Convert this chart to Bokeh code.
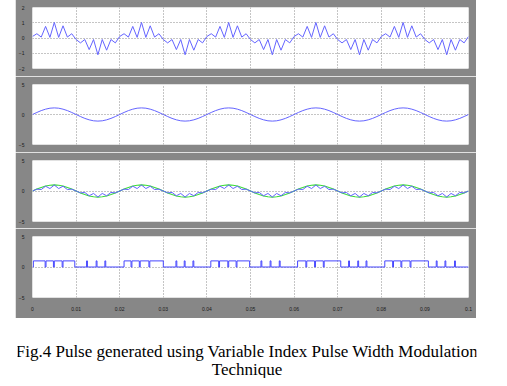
from bokeh.plotting import figure
from bokeh.models import FixedTicker, Range1d, Label
from bokeh.layouts import column
from bokeh.embed import file_html
from bokeh.resources import INLINE

# ---------------- data ----------------
sample_t = [i / 1000 for i in range(101)]          # 1 ms vertex spacing
x_ticks = [0.0, 0.01, 0.02, 0.03, 0.04, 0.05, 0.06, 0.07, 0.08, 0.09, 0.1]
x_tick_labels = ["0", "0.01", "0.02", "0.03", "0.04", "0.05", "0.06", "0.07", "0.08", "0.09", "0.1"]

# panel 1: modulated carrier
modulated = [
    0.10, 0.28, 0.06, 0.76, 0.04, 1.02, 0.04, 0.80, 0.06, 0.28,
    -0.10, -0.32, -0.10, -0.76, -0.10, -1.10, -0.10, -0.80, -0.10, -0.32,
    0.10, 0.28, 0.06, 0.76, 0.04, 1.02, 0.04, 0.80, 0.06, 0.28,
    -0.10, -0.32, -0.10, -0.76, -0.10, -1.10, -0.10, -0.80, -0.10, -0.32,
    0.10, 0.28, 0.06, 0.76, 0.04, 1.02, 0.04, 0.80, 0.06, 0.28,
    -0.10, -0.32, -0.10, -0.76, -0.10, -1.10, -0.10, -0.80, -0.10, -0.32,
    0.10, 0.28, 0.06, 0.76, 0.04, 1.02, 0.04, 0.80, 0.06, 0.28,
    -0.10, -0.32, -0.10, -0.76, -0.10, -1.10, -0.10, -0.80, -0.10, -0.32,
    0.10, 0.28, 0.06, 0.76, 0.04, 1.02, 0.04, 0.80, 0.06, 0.28,
    -0.10, -0.32, -0.10, -0.76, -0.10, -1.10, -0.10, -0.80, -0.10, -0.32,
    0.10,
]
p1_ticks = [-2, -1, 0, 1, 2]

# panel 2: reference sine
reference = [
    0.00, 0.34, 0.65, 0.89, 1.05, 1.10, 1.05, 0.89, 0.65, 0.34,
    0.00, -0.34, -0.65, -0.89, -1.05, -1.10, -1.05, -0.89, -0.65, -0.34,
    0.00, 0.34, 0.65, 0.89, 1.05, 1.10, 1.05, 0.89, 0.65, 0.34,
    0.00, -0.34, -0.65, -0.89, -1.05, -1.10, -1.05, -0.89, -0.65, -0.34,
    0.00, 0.34, 0.65, 0.89, 1.05, 1.10, 1.05, 0.89, 0.65, 0.34,
    0.00, -0.34, -0.65, -0.89, -1.05, -1.10, -1.05, -0.89, -0.65, -0.34,
    0.00, 0.34, 0.65, 0.89, 1.05, 1.10, 1.05, 0.89, 0.65, 0.34,
    0.00, -0.34, -0.65, -0.89, -1.05, -1.10, -1.05, -0.89, -0.65, -0.34,
    0.00, 0.34, 0.65, 0.89, 1.05, 1.10, 1.05, 0.89, 0.65, 0.34,
    0.00, -0.34, -0.65, -0.89, -1.05, -1.10, -1.05, -0.89, -0.65, -0.34,
    0.00,
]
p2_ticks = [-5, 0, 5]

# panel 3: envelope (green) and carrier (blue)
envelope = [
    0.00, 0.31, 0.59, 0.81, 0.95, 1.00, 0.95, 0.81, 0.59, 0.31,
    0.00, -0.31, -0.59, -0.81, -0.95, -1.00, -0.95, -0.81, -0.59, -0.31,
    0.00, 0.31, 0.59, 0.81, 0.95, 1.00, 0.95, 0.81, 0.59, 0.31,
    0.00, -0.31, -0.59, -0.81, -0.95, -1.00, -0.95, -0.81, -0.59, -0.31,
    0.00, 0.31, 0.59, 0.81, 0.95, 1.00, 0.95, 0.81, 0.59, 0.31,
    0.00, -0.31, -0.59, -0.81, -0.95, -1.00, -0.95, -0.81, -0.59, -0.31,
    0.00, 0.31, 0.59, 0.81, 0.95, 1.00, 0.95, 0.81, 0.59, 0.31,
    0.00, -0.31, -0.59, -0.81, -0.95, -1.00, -0.95, -0.81, -0.59, -0.31,
    0.00, 0.31, 0.59, 0.81, 0.95, 1.00, 0.95, 0.81, 0.59, 0.31,
    0.00, -0.31, -0.59, -0.81, -0.95, -1.00, -0.95, -0.81, -0.59, -0.31,
    0.00,
]
carrier = [
    0.00, 0.30, 0.24, 0.78, 0.40, 0.98, 0.40, 0.78, 0.24, 0.30,
    0.00, -0.30, -0.24, -0.78, -0.40, -0.98, -0.40, -0.78, -0.24, -0.30,
    0.00, 0.30, 0.24, 0.78, 0.40, 0.98, 0.40, 0.78, 0.24, 0.30,
    0.00, -0.30, -0.24, -0.78, -0.40, -0.98, -0.40, -0.78, -0.24, -0.30,
    0.00, 0.30, 0.24, 0.78, 0.40, 0.98, 0.40, 0.78, 0.24, 0.30,
    0.00, -0.30, -0.24, -0.78, -0.40, -0.98, -0.40, -0.78, -0.24, -0.30,
    0.00, 0.30, 0.24, 0.78, 0.40, 0.98, 0.40, 0.78, 0.24, 0.30,
    0.00, -0.30, -0.24, -0.78, -0.40, -0.98, -0.40, -0.78, -0.24, -0.30,
    0.00, 0.30, 0.24, 0.78, 0.40, 0.98, 0.40, 0.78, 0.24, 0.30,
    0.00, -0.30, -0.24, -0.78, -0.40, -0.98, -0.40, -0.78, -0.24, -0.30,
    0.00,
]
p3_ticks = [-5, 0, 5]

# panel 4: gate pulses (level 1) - rise / fall times in seconds
pulse_on = [0.0002, 0.0031, 0.0050, 0.0070, 0.0124, 0.0146, 0.0166,
            0.0210, 0.0228, 0.0247, 0.0269, 0.0329, 0.0348, 0.0368,
            0.0409, 0.0429, 0.0450, 0.0469, 0.0524, 0.0545, 0.0566,
            0.0608, 0.0629, 0.0649, 0.0669, 0.0725, 0.0746, 0.0765,
            0.0808, 0.0828, 0.0847, 0.0868, 0.0926, 0.0946, 0.0968]
pulse_off = [0.0029, 0.0048, 0.0068, 0.0097, 0.0126, 0.0148, 0.0168,
             0.0226, 0.0245, 0.0267, 0.0300, 0.0331, 0.0350, 0.0370,
             0.0427, 0.0448, 0.0467, 0.0498, 0.0526, 0.0547, 0.0568,
             0.0627, 0.0647, 0.0667, 0.0707, 0.0727, 0.0748, 0.0767,
             0.0826, 0.0845, 0.0866, 0.0908, 0.0928, 0.0948, 0.0970]
pulse_level = 1.0
p4_ticks = [-5, 0, 5]

caption_line1 = "Fig.4 Pulse generated using Variable Index Pulse Width Modulation"
caption_line2 = "Technique"
time_offset_text = "Time offset: 0"

# ---------------- styling ----------------
GRAY = "#878787"
GRID = "#8a8a8a"
BLUE = "#6464ff"


def panel(ylim, yticks, top, bottom, frame_h, show_x):
    p = figure(frame_width=436, frame_height=frame_h,
               x_range=Range1d(0, 0.1), y_range=Range1d(*ylim),
               output_backend="svg", toolbar_location=None,
               min_border_left=13, min_border_right=8,
               min_border_top=top, min_border_bottom=bottom,
               background_fill_color="white", border_fill_color=GRAY,
               outline_line_color=None)
    p.yaxis.ticker = FixedTicker(ticks=yticks)
    p.yaxis.major_label_text_font_size = "5px"
    p.yaxis.major_label_text_color = "#1a1a1a"
    p.yaxis.major_label_standoff = 2
    p.yaxis.major_tick_line_color = None
    p.yaxis.minor_tick_line_color = None
    p.yaxis.axis_line_color = None
    p.xgrid.ticker = FixedTicker(ticks=x_ticks)
    p.ygrid.ticker = FixedTicker(ticks=yticks)
    for g in (p.xgrid, p.ygrid):
        g.grid_line_color = GRID
        g.grid_line_dash = "1 2"
        g.grid_line_width = 1
    if show_x:
        p.xaxis.ticker = FixedTicker(ticks=x_ticks)
        p.xaxis.major_label_overrides = {t: s for t, s in zip(x_ticks, x_tick_labels)}
        p.xaxis.major_label_text_font_size = "5px"
        p.xaxis.major_label_text_color = "#1a1a1a"
        p.xaxis.major_label_standoff = 3
        p.xaxis.major_tick_line_color = None
        p.xaxis.minor_tick_line_color = None
        p.xaxis.axis_line_color = None
    else:
        p.xaxis.visible = False
    return p


f1 = panel((-2, 2), p1_ticks, 15, 8, 61, False)
f1.line(sample_t, modulated, line_color=BLUE, line_width=1)

f2 = panel((-5, 5), p2_ticks, 8, 8, 60, False)
f2.line(sample_t, reference, line_color=BLUE, line_width=1)

f3 = panel((-5, 5), p3_ticks, 8, 7, 61, False)
f3.line(sample_t, envelope, line_color="#3ada3a", line_width=1.1)
f3.line(sample_t, carrier, line_color=BLUE, line_width=1)

f4 = panel((-5, 5), p4_ticks, 8, 21, 61, True)
step_x = [0.0]
step_y = [0.0]
for on, off in zip(pulse_on, pulse_off):
    step_x += [on, on, off, off]
    step_y += [0.0, pulse_level, pulse_level, 0.0]
step_x.append(0.1)
step_y.append(0.0)
f4.line(step_x, step_y, line_color="#4646ff", line_width=1)
f4.add_layout(Label(x=-13, y=-17, x_units="screen", y_units="screen",
                    text=time_offset_text, text_font_size="5px",
                    text_color="#1a1a1a", text_baseline="middle"))

f1.margin = (-8, 0, 0, 15)
for f in (f2, f3, f4):
    f.margin = (0, 0, 0, 15)

# caption drawn as SVG text in a plain white strip
cap = figure(width=484, height=60, output_backend="svg", toolbar_location=None,
             x_range=Range1d(0, 1), y_range=Range1d(0, 60),
             x_axis_location=None, y_axis_location=None,
             min_border=0, outline_line_color=None,
             background_fill_color="white", border_fill_color="white")
cap.grid.visible = False
cap.margin = (0, 0, 0, 0)
for txt, yb in ((caption_line1, 27.0), (caption_line2, 9.5)):
    cap.add_layout(Label(x=0.5, y=yb, x_units="data", y_units="data",
                         text=txt, text_align="center", text_baseline="alphabetic",
                         text_font="Liberation Serif", text_font_size="17px",
                         text_color="black"))

layout = column(f1, f2, f3, f4, cap)

open("out.html", "w").write(file_html(layout, INLINE))
